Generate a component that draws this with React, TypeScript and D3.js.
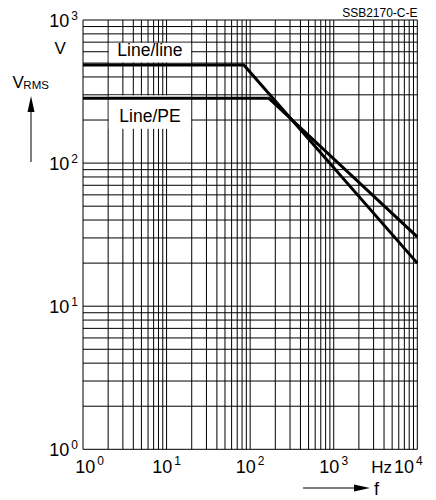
import React from "react";
import * as d3 from "d3";

// Data
const lineLineFreq = [1, 84, 10000];
const lineLineVolt = [485, 485, 20];
const linePEFreq = [1, 167, 10000];
const linePEVolt = [284, 284, 30.5];

const xTickExp = [0, 1, 2, 3, 4];
const yTickExp = [0, 1, 2, 3];

// label boxes (data coordinates)
const boxLabels = ["Line/line", "Line/PE"];
const boxFreq = [[2, 20], [2, 20]];
const boxVolt = [[700, 500], [300, 172]];

const W = 436;
const H = 500;
const FONT = "'Liberation Sans', Arial, Helvetica, sans-serif";

export default function App() {
  const x = d3.scaleLog().domain([1, 1e4]).range([83, 417.3]);
  const y = d3.scaleLog().domain([1, 1000]).range([449.3, 20]);

  const gridX: number[] = [];
  for (let d = 0; d < 4; d++) for (let m = 1; m <= 9; m++) gridX.push(m * Math.pow(10, d));
  gridX.push(1e4);
  const gridY: number[] = [];
  for (let d = 0; d < 3; d++) for (let m = 1; m <= 9; m++) gridY.push(m * Math.pow(10, d));
  gridY.push(1000);

  const line = d3
    .line<[number, number]>()
    .x((d) => x(d[0]))
    .y((d) => y(d[1]));

  const ll: [number, number][] = lineLineFreq.map((f, i) => [f, lineLineVolt[i]]);
  const pe: [number, number][] = linePEFreq.map((f, i) => [f, linePEVolt[i]]);

  const [x0, x1] = x.range();
  const [y0, y1] = y.range();

  const xLabelShift = (e: number) => (e === 0 ? 6.5 : 0);

  return (
    <svg
      width={W}
      height={H}
      style={{ position: "absolute", left: 0, top: 0, background: "#fff" }}
      fontFamily={FONT}
    >
      <rect x={0} y={0} width={W} height={H} fill="#fff" />
      {/* grid */}
      <g stroke="#000" strokeWidth={1}>
        {gridX.map((v, i) => (
          <line key={"gx" + i} x1={x(v)} x2={x(v)} y1={y1} y2={y0} />
        ))}
        {gridY.map((v, i) => (
          <line key={"gy" + i} x1={x0} x2={x1} y1={y(v)} y2={y(v)} />
        ))}
      </g>
      {/* label boxes */}
      {boxLabels.map((lab, i) => {
        const bx0 = x(boxFreq[i][0]);
        const bx1 = x(boxFreq[i][1]);
        const by0 = y(boxVolt[i][0]);
        const by1 = y(boxVolt[i][1]);
        return (
          <g key={"box" + i}>
            <rect
              x={bx0 + 0.6}
              y={by0 + 0.6}
              width={bx1 - bx0 - 1.2}
              height={by1 - by0 - 1.2}
              fill="#fff"
            />
            <text
              x={(bx0 + bx1) / 2}
              y={i === 0 ? by1 - 6.7 : by0 + 26.8}
              textAnchor="middle"
              fontSize={17.5}
              fill="#000"
            >
              {lab}
            </text>
          </g>
        );
      })}
      {/* curves */}
      <path d={line(ll) || ""} fill="none" stroke="#000" strokeWidth={3} />
      <path d={line(pe) || ""} fill="none" stroke="#000" strokeWidth={3} />

      {/* y tick labels */}
      {yTickExp.map((e) => (
        <text key={"yl" + e} x={78} y={y(Math.pow(10, e)) + 7} textAnchor="end" fontSize={18} fill="#000">
          10
          <tspan dx={2} dy={-7.5} fontSize={12}>
            {e}
          </tspan>
        </text>
      ))}
      {/* x tick labels */}
      {xTickExp.map((e) =>
        e < 4 ? (
          <text
            key={"xl" + e}
            x={x(Math.pow(10, e)) + xLabelShift(e)}
            y={y0 + 23.7}
            textAnchor="middle"
            fontSize={18}
            fill="#000"
          >
            10
            <tspan dx={2} dy={-8} fontSize={12}>
              {e}
            </tspan>
          </text>
        ) : (
          <text key={"xl" + e} x={x(Math.pow(10, e)) + 5.5} y={y0 + 23.7} textAnchor="end" fontSize={18} fill="#000">
            10
            <tspan dx={2} dy={-8} fontSize={12}>
              {e}
            </tspan>
          </text>
        )
      )}
      <text x={392} y={y0 + 23.7} textAnchor="end" fontSize={17} fill="#000">
        Hz
      </text>

      {/* y unit + title */}
      <text x={54.5} y={54} fontSize={17} fill="#000">
        V
      </text>
      <text x={12.5} y={88.3} fontSize={17} fill="#000">
        V
        <tspan dx={-0.5} dy={1} fontSize={11.5}>
          RMS
        </tspan>
      </text>
      {/* up arrow */}
      <line x1={31} x2={31} y1={162} y2={108} stroke="#000" strokeWidth={1} />
      <path d="M31,96 L27.5,112 L34.5,112 Z" fill="#000" />

      {/* right arrow + f */}
      <line x1={303} x2={358} y1={488} y2={488} stroke="#000" strokeWidth={1} />
      <path d="M370,488 L354,484.5 L354,491.5 Z" fill="#000" />
      <text x={374} y={495} fontSize={18} fill="#000">
        f
      </text>

      {/* code */}
      <text x={417.5} y={16.5} textAnchor="end" fontSize={12} fill="#000">
        SSB2170-C-E
      </text>
    </svg>
  );
}
